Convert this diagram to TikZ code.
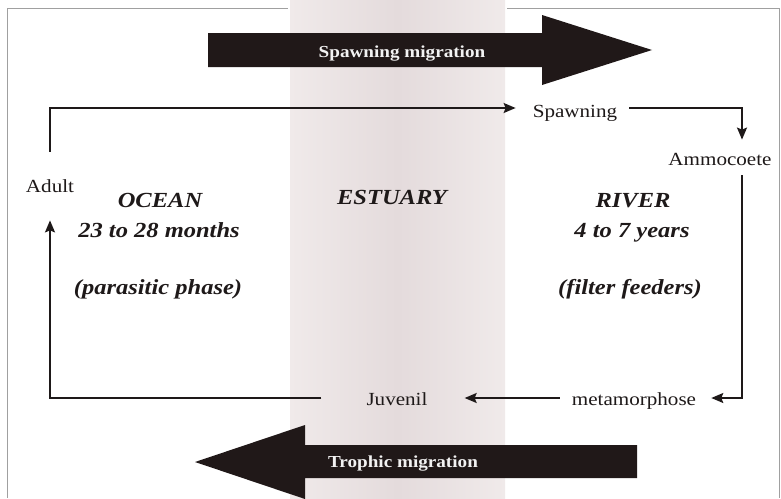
\documentclass[tikz,border=0pt]{standalone}
\usepackage{fontspec}
\setmainfont{Liberation Serif}[FakeStretch=1.14]
\usetikzlibrary{arrows.meta,calc}
\definecolor{ink}{RGB}{30,25,25}
\definecolor{bigarrow}{RGB}{32,24,24}
\definecolor{bandA}{RGB}{240,234,234}
\definecolor{bandB}{RGB}{228,219,220}
\definecolor{framec}{RGB}{160,160,160}
\begin{document}
\begin{tikzpicture}[x=1pt,y=-1pt,
  lab/.style={inner sep=0pt, anchor=base, font=\fontsize{18.5}{20}\selectfont, text=ink},
  zone/.style={inner sep=0pt, anchor=base, font=\fontsize{21.5}{24}\selectfont\bfseries\itshape, text=ink},
  mig/.style={inner sep=0pt, anchor=base, font=\fontsize{16.8}{19}\selectfont\bfseries, text=gray!10},
  conn/.style={draw=ink, line width=1.6pt},
  tip/.style={-{Stealth[length=12pt,width=10pt,inset=2pt]}},
  bigarr/.style={fill=bigarrow},
  framel/.style={draw=framec, line width=0.8pt}]
\useasboundingbox (0,0) rectangle (781,498);
\fill[white] (0,0) rectangle (781,498);
% estuary band
\shade[left color=bandA, right color=bandA, middle color=bandB] (290,0) rectangle (505,498);
% frame
\draw[framel] (7,498) -- (7,8) -- (288,8);
\draw[framel] (507,8) -- (779,8) -- (779,498);
% big arrows
\fill[bigarr] (208,33) -- (542,33) -- (542,15) -- (652,50) -- (542,85) -- (542,67) -- (208,67) -- cycle;
\node[mig] (spawnmig) at (402,57) {Spawning migration};
\fill[bigarr] (637,445) -- (305,445) -- (305,425) -- (195,462) -- (305,499) -- (305,478) -- (637,478) -- cycle;
\node[mig] (trophmig) at (403,467) {Trophic migration};
% helper lines
\coordinate (topY) at (0,108);
\coordinate (botY) at (0,398);
\coordinate (rightX) at (742,0);
% stage labels
\node[lab] (adult) at (50,192) {Adult};
\node[lab] (spawning) at (575,117) {Spawning};
\node[lab] (ammo) at (720,165) {Ammocoete};
\node[lab] (meta) at (634,405) {metamorphose};
\node[lab] (juv) at (397,405) {Juvenil};
% zone labels
\node[zone] (ocean) at (160,207) {OCEAN};
\node[zone] (oceant) at (159,237) {23 to 28 months};
\node[zone] (oceanp) at (158,294) {(parasitic phase)};
\node[zone] (estuary) at (392,204) {ESTUARY};
\node[zone] (river) at (633,207) {RIVER};
\node[zone] (rivert) at (632,237) {4 to 7 years};
\node[zone] (riverp) at (630,294) {(filter feeders)};
% connectors
\draw[conn,tip,shorten <=27pt,shorten >=17pt] (adult.north) |- (spawning.west |- topY);
\draw[conn,tip,shorten <=12pt,shorten >=13pt] (spawning.east |- topY) -| (ammo.north -| rightX);
\draw[conn,tip,shorten <=10pt,shorten >=15pt] (ammo.south -| rightX) |- (meta.east |- botY);
\draw[conn,tip,shorten <=12pt,shorten >=37pt] (meta.west |- botY) -- (juv.east |- botY);
\draw[conn,tip,shorten <=45pt,shorten >=28pt] (juv.west |- botY) -| (adult.south);
\end{tikzpicture}
\end{document}
